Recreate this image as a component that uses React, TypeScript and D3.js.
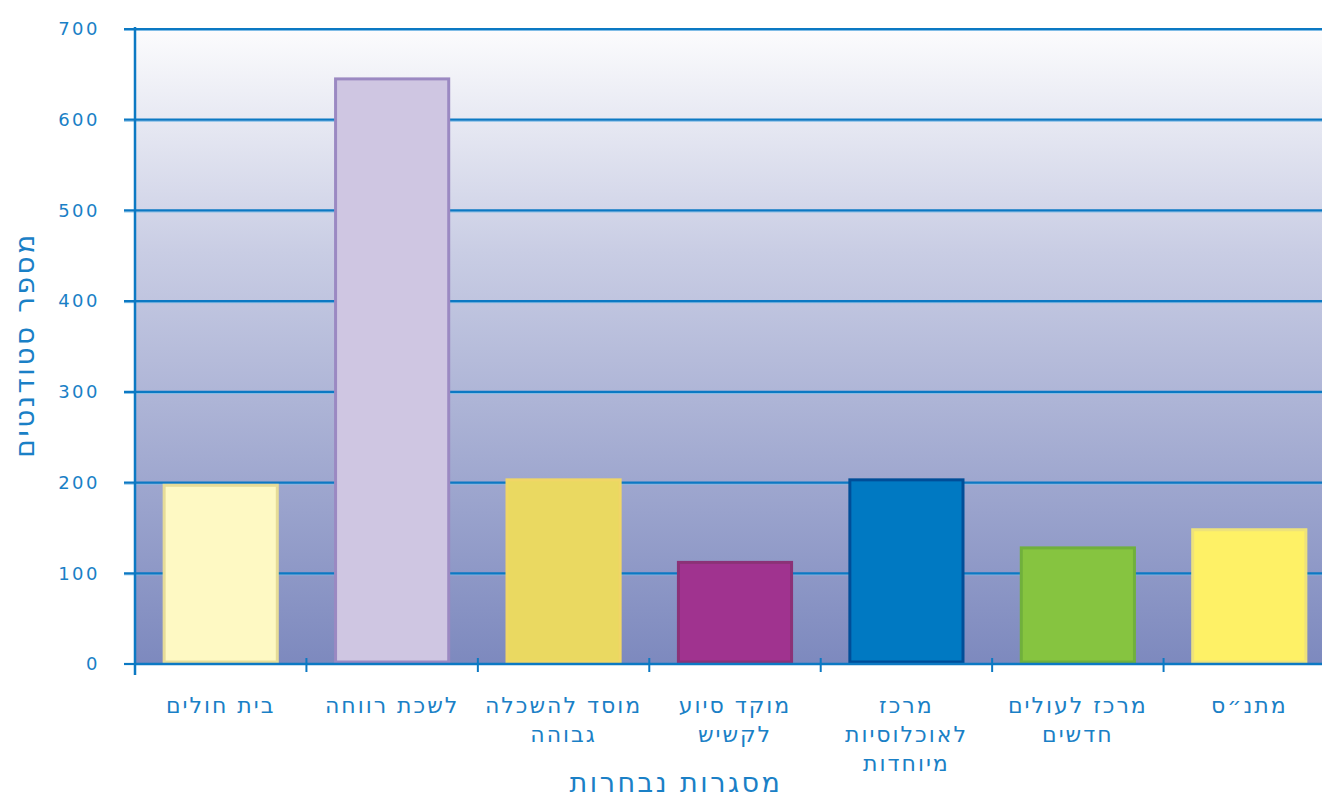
import * as d3 from "d3";

const categories = [
  ["בית חולים"],
  ["לשכת רווחה"],
  ["מוסד להשכלה", "גבוהה"],
  ["מוקד סיוע", "לקשיש"],
  ["מרכז", "לאוכלוסיות", "מיוחדות"],
  ["מרכז לעולים", "חדשים"],
  ["מתנ״ס"],
];
const values = [197, 645, 203, 112, 203, 128, 148];
const fills = ["#FEF9C3", "#CFC6E2", "#EAD961", "#A0338F", "#0079C2", "#86C440", "#FEF166"];
const strokes = ["#E6DC98", "#9B89C2", "#F0D666", "#8B3277", "#004E98", "#70B03C", "#EEE27A"];
const yTicks = [0, 100, 200, 300, 400, 500, 600, 700];

const W = 1322;
const H = 801;
const left = 135;
const right = 1335;
const top = 29;
const bottom = 664;
const blue = "#0C79C3";
const textBlue = "#1A80C6";
const hebFont = "'DejaVu Sans', sans-serif";

export default function App() {
  const x = d3
    .scaleBand<number>()
    .domain(d3.range(categories.length))
    .range([left, right]);
  const y = d3.scaleLinear().domain([0, 700]).range([bottom, top]);
  const barW = x.bandwidth() * 0.66;

  return (
    <svg
      width={W}
      height={H}
      style={{ position: "absolute", left: 0, top: 0 }}
    >
      <defs>
        <linearGradient id="bg" x1="0" y1="0" x2="0" y2="1">
          <stop offset="0%" stopColor="#FCFCFD" />
          <stop offset="35%" stopColor="#C9CDE4" />
          <stop offset="100%" stopColor="#7D89BE" />
        </linearGradient>
      </defs>
      <rect x={left} y={top} width={right - left} height={bottom - top} fill="url(#bg)" />

      {yTicks.map((t) => (
        <g key={t}>
          {t > 0 && (
            <line x1={left - 11} x2={W} y1={y(t) + 1.5} y2={y(t) + 1.5} stroke="#7FBCE6" strokeWidth={1} />
          )}
          <line x1={left - 11} x2={t > 0 ? W : left} y1={y(t)} y2={y(t)} stroke={blue} strokeWidth={2.2} />
          <text
            x={100}
            y={y(t)}
            dy="0.35em"
            textAnchor="end"
            fontFamily="DejaVu Sans"
            fontSize={18}
            letterSpacing={2.5}
            fill={textBlue}
          >
            {t}
          </text>
        </g>
      ))}

      {values.map((v, i) => {
        const cx = x(i)! + x.bandwidth() / 2;
        return (
          <rect
            key={i}
            x={cx - barW / 2}
            y={y(v)}
            width={barW}
            height={y(0) - y(v) - 2}
            fill={fills[i]}
            stroke={strokes[i]}
            strokeWidth={3}
          />
        );
      })}

      <line x1={left} x2={W} y1={bottom} y2={bottom} stroke={blue} strokeWidth={2.5} />
      <line x1={left} x2={left} y1={top - 2} y2={bottom + 11} stroke={blue} strokeWidth={2.5} />
      {d3.range(1, categories.length).map((i) => (
        <line key={i} x1={x(i)!} x2={x(i)!} y1={bottom - 6} y2={bottom + 8} stroke={blue} strokeWidth={2} />
      ))}

      {categories.map((lines, i) => {
        const cx = x(i)! + x.bandwidth() / 2;
        return (
          <text
            key={i}
            x={cx}
            textAnchor="middle"
            fontFamily={hebFont}
            fontSize={22}
            letterSpacing={2}
            fill={textBlue}
          >
            {lines.map((l, j) => (
              <tspan key={j} x={cx} y={713 + j * 29}>
                {l}
              </tspan>
            ))}
          </text>
        );
      })}

      <text
        x={676}
        y={792}
        textAnchor="middle"
        fontFamily={hebFont}
        fontSize={27}
        letterSpacing={2.5}
        fill={textBlue}
      >
        מסגרות נבחרות
      </text>
      <text
        transform={`translate(34, 345) rotate(-90)`}
        textAnchor="middle"
        fontFamily={hebFont}
        fontSize={28}
        letterSpacing={2.5}
        fill={textBlue}
      >
        מספר סטודנטים
      </text>
    </svg>
  );
}
